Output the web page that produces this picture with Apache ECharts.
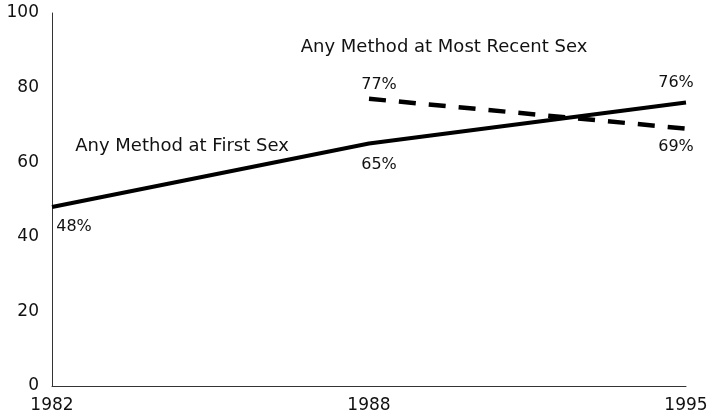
<!DOCTYPE html>
<html><head><meta charset="utf-8">
<script src="https://cdn.jsdelivr.net/npm/echarts@6/dist/echarts.min.js"></script>
<style>html,body{margin:0;padding:0;background:#fff}#c{width:715px;height:419px}</style>
</head><body><div id="c"></div>
<script>
const years = ['1982', '1988', '1995'];
const firstSex = [48, 65, 76];
const recentSex = [null, 77, 69];
const yTicks = [0, 20, 40, 60, 80, 100];
const firstName = 'Any Method at First Sex';
const recentName = 'Any Method at Most Recent Sex';

const FONT = 'DejaVu Sans';
const chart = echarts.init(document.getElementById('c'));
const lblFirst = [[22, 20], [10, 21], [-10, -20]];
const lblRecent = [null, [10, -14], [-10, 18]];
function mk(vals, offs) {
  return vals.map((v, i) => v == null ? null : {
    value: v,
    label: { show: true, formatter: v + '%', offset: offs[i], position: 'inside',
      color: '#111', fontFamily: FONT, fontSize: 16 }
  });
}
chart.setOption({
  animation: false,
  grid: { left: 52, right: 29, top: 13, bottom: 33 },
  xAxis: {
    type: 'category', data: years, boundaryGap: false,
    axisLine: { lineStyle: { color: '#333', width: 1 } },
    axisTick: { show: false },
    axisLabel: { color: '#111', fontFamily: FONT, fontSize: 17, margin: 11 }
  },
  yAxis: {
    type: 'value', min: 0, max: 100, interval: 20,
    axisLine: { show: true, lineStyle: { color: '#333', width: 1 } },
    axisTick: { show: false },
    splitLine: { show: false },
    axisLabel: { color: '#111', fontFamily: FONT, fontSize: 17, margin: 13,
      formatter: v => yTicks.includes(v) ? String(v) : '' }
  },
  series: [
    { name: firstName, type: 'line', data: mk(firstSex, lblFirst),
      symbol: 'circle', symbolSize: 1, showSymbol: true,
      itemStyle: { color: 'rgba(0,0,0,0)' },
      lineStyle: { color: '#000', width: 4 },
      markPoint: { symbolSize: 0, data: [{ coord: [0, firstSex[0]],
        label: { show: true, formatter: firstName, offset: [130, -61], color: '#111', fontFamily: FONT, fontSize: 18 } }] } },
    { name: recentName, type: 'line', data: mk(recentSex, lblRecent),
      symbol: 'circle', symbolSize: 1, showSymbol: true,
      itemStyle: { color: 'rgba(0,0,0,0)' },
      lineStyle: { color: '#000', width: 4.5, type: [17, 13] },
      markPoint: { symbolSize: 0, data: [{ coord: [1, recentSex[1]],
        label: { show: true, formatter: recentName, offset: [75, -51], color: '#111', fontFamily: FONT, fontSize: 18 } }] } }
  ]
});
</script></body></html>
